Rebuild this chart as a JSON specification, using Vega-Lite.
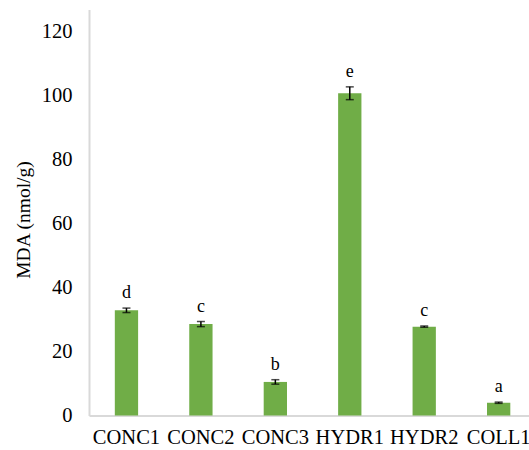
{
  "$schema": "https://vega.github.io/schema/vega-lite/v6.json",
  "width": 440,
  "height": 406,
  "autosize": {"type": "none"},
  "padding": {"left": 89, "top": 9.5, "right": 0, "bottom": 34.5},
  "background": "white",
  "config": {
    "view": {"stroke": null},
    "font": "Liberation Serif, Times New Roman, serif"
  },
  "data": {
    "values": [
      {"sample": "CONC1", "mean": 32.9, "lo": 32.2, "hi": 33.6, "group": "d"},
      {"sample": "CONC2", "mean": 28.6, "lo": 27.8, "hi": 29.4, "group": "c"},
      {"sample": "CONC3", "mean": 10.5, "lo": 9.8, "hi": 11.2, "group": "b"},
      {"sample": "HYDR1", "mean": 100.8, "lo": 98.8, "hi": 102.8, "group": "e"},
      {"sample": "HYDR2", "mean": 27.8, "lo": 27.6, "hi": 28.0, "group": "c"},
      {"sample": "COLL1", "mean": 4.0, "lo": 3.8, "hi": 4.2, "group": "a"}
    ]
  },
  "encoding": {
    "x": {
      "field": "sample",
      "type": "nominal",
      "sort": null,
      "scale": {"paddingInner": 0.687, "paddingOuter": 0.299, "align": 0.58},
      "axis": {
        "title": null,
        "labelAngle": 0,
        "labelFont": "Liberation Serif, Times New Roman, serif",
        "labelFontSize": 20.5,
        "labelColor": "#000000",
        "labelPadding": 12,
        "labelOverlap": false,
        "labelBound": false,
        "ticks": false,
        "domainColor": "#d9d9d9",
        "domainWidth": 2
      }
    }
  },
  "layer": [
    {
      "mark": {"type": "bar", "color": "#70ad47"},
      "encoding": {
        "y": {
          "field": "mean",
          "type": "quantitative",
          "title": "MDA (nmol/g)",
          "scale": {"domain": [0, 127], "nice": false, "zero": true},
          "axis": {
            "values": [0, 20, 40, 60, 80, 100, 120],
            "grid": false,
            "ticks": false,
            "labelFont": "Liberation Serif, Times New Roman, serif",
            "labelFontSize": 20.5,
            "labelColor": "#000000",
            "labelPadding": 17,
            "domainColor": "#d9d9d9",
            "domainWidth": 2,
            "titleFont": "Liberation Serif, Times New Roman, serif",
            "titleFontSize": 19.5,
            "titleFontWeight": "normal",
            "titleColor": "#000000",
            "titleAngle": 270,
            "titleAlign": "center",
            "titleBaseline": "middle",
            "titleX": -66,
            "titleY": 210
          }
        }
      }
    },
    {
      "mark": {
        "type": "errorbar",
        "ticks": {"size": 8, "thickness": 1.5, "color": "#000000"},
        "rule": {"strokeWidth": 1.5, "color": "#000000"}
      },
      "encoding": {
        "y": {"field": "lo", "type": "quantitative", "title": "MDA (nmol/g)"},
        "y2": {"field": "hi"}
      }
    },
    {
      "mark": {
        "type": "text",
        "font": "Liberation Serif, Times New Roman, serif",
        "fontSize": 18,
        "color": "#000000",
        "baseline": "alphabetic",
        "dy": -10
      },
      "encoding": {
        "y": {"field": "hi", "type": "quantitative", "title": "MDA (nmol/g)"},
        "text": {"field": "group"}
      }
    }
  ]
}
